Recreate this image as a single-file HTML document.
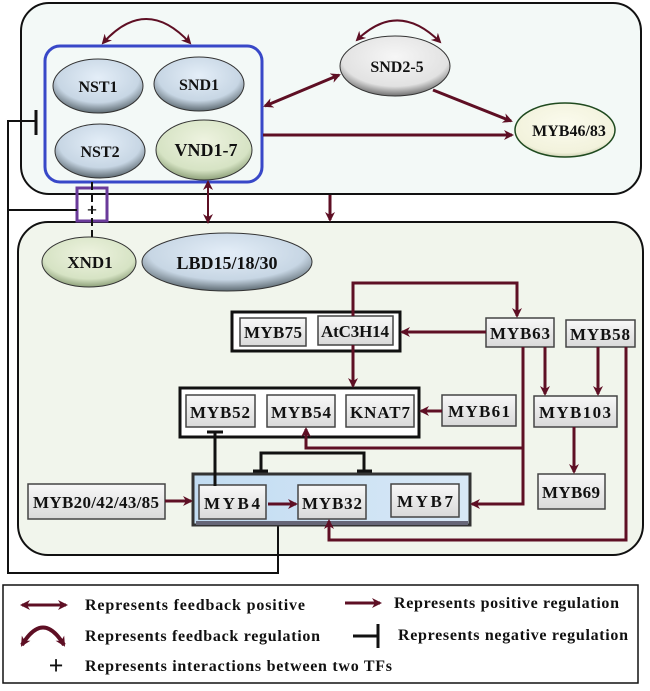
<!DOCTYPE html>
<html><head><meta charset="utf-8"><style>
html,body{margin:0;padding:0;background:#fff}
svg{display:block}
text{font-family:"Liberation Serif",serif;font-weight:bold;fill:#111}
</style></head><body>
<svg width="650" height="691" viewBox="0 0 650 691" xmlns="http://www.w3.org/2000/svg">
<defs>
<marker id="ah" markerWidth="10" markerHeight="10" refX="8" refY="5" orient="auto-start-reverse" markerUnits="userSpaceOnUse"><path d="M0,0 L10,5 L0,10 L3,5 Z" fill="#5e0f24"/></marker>
<radialGradient id="gb" cx="50%" cy="35%" r="65%"><stop offset="0" stop-color="#e4eef8"/><stop offset="0.7" stop-color="#c7d6e4"/><stop offset="1" stop-color="#5f6c74"/></radialGradient>
<radialGradient id="gg" cx="50%" cy="35%" r="65%"><stop offset="0" stop-color="#eef3e0"/><stop offset="0.75" stop-color="#d6e3c4"/><stop offset="1" stop-color="#8ea17a"/></radialGradient>
<radialGradient id="gw" cx="50%" cy="35%" r="65%"><stop offset="0" stop-color="#f6f6f6"/><stop offset="0.75" stop-color="#e2e2e2"/><stop offset="1" stop-color="#707070"/></radialGradient>
<radialGradient id="gy" cx="50%" cy="40%" r="65%"><stop offset="0" stop-color="#fbfbee"/><stop offset="0.8" stop-color="#f2f2dc"/><stop offset="1" stop-color="#b8bd9a"/></radialGradient>
<linearGradient id="bx" x1="0" y1="0" x2="0" y2="1"><stop offset="0" stop-color="#f8f8f8"/><stop offset="1" stop-color="#d9d9d9"/></linearGradient>
<linearGradient id="blu" x1="0" y1="0" x2="1" y2="0"><stop offset="0" stop-color="#c2dcf2"/><stop offset="1" stop-color="#d8e8f6"/></linearGradient>
</defs>
<g stroke="#111" stroke-width="2">
<rect x="21" y="3" width="620" height="191" rx="28" fill="#f3f9f7"/>
<rect x="18" y="222" width="625" height="333" rx="30" fill="#f1f5ec"/>
<rect x="3" y="585" width="635" height="98" fill="#fff" stroke-width="1.5"/>
</g>
<rect x="45" y="46" width="217" height="136" rx="15" fill="none" stroke="#3848c8" stroke-width="3"/>
<g stroke="#333" stroke-width="1">
<ellipse cx="98" cy="86" rx="45" ry="27" fill="url(#gb)"/>
<ellipse cx="199" cy="84" rx="45" ry="27" fill="url(#gb)"/>
<ellipse cx="100" cy="151" rx="45" ry="27" fill="url(#gb)"/>
<ellipse cx="204" cy="150" rx="48" ry="30" fill="url(#gg)"/>
<ellipse cx="395" cy="66" rx="55" ry="30" fill="url(#gw)"/>
<ellipse cx="565" cy="130" rx="50" ry="27" fill="url(#gy)" stroke="#1f4a1f" stroke-width="1.5"/>
<ellipse cx="89" cy="262" rx="47" ry="25" fill="url(#gg)"/>
<ellipse cx="227" cy="262" rx="85" ry="29" fill="url(#gb)"/>
</g>
<g font-size="16" text-anchor="middle">
<text x="98" y="92">NST1</text><text x="199" y="90">SND1</text>
<text x="100" y="157">NST2</text><text x="206" y="156" font-size="18">VND1-7</text>
<text x="397" y="72">SND2-5</text><text x="569" y="136">MYB46/83</text>
<text x="90" y="268" font-size="17">XND1</text><text x="227" y="269" font-size="18">LBD15/18/30</text>
</g>
<g stroke="#5e0f24" stroke-width="3" fill="none">
<path d="M103,43 Q146,-5 190,43" stroke-width="2" marker-start="url(#ah)" marker-end="url(#ah)"/>
<path d="M357,40 Q398,0 440,42" stroke-width="2" marker-start="url(#ah)" marker-end="url(#ah)"/>
<line x1="265" y1="106" x2="339" y2="75" marker-start="url(#ah)" marker-end="url(#ah)"/>
<line x1="433" y1="90" x2="511" y2="121" marker-end="url(#ah)"/>
<line x1="263" y1="135" x2="512" y2="135" marker-end="url(#ah)"/>
<line x1="330" y1="195" x2="330" y2="220" marker-end="url(#ah)"/>
<line x1="208" y1="182" x2="208" y2="222" stroke-width="2" marker-start="url(#ah)" marker-end="url(#ah)"/>
</g>
<rect x="77" y="188" width="30" height="33" fill="none" stroke="#6a3a9a" stroke-width="3"/>
<line x1="92" y1="182" x2="92" y2="237" stroke="#111" stroke-width="2" stroke-dasharray="8,4"/>
<text x="92" y="216" font-size="18" text-anchor="middle">+</text>
<g stroke="#111" stroke-width="2" fill="none">
<polyline points="36,121 8,121 8,573 278,573 278,526"/>
<line x1="36" y1="110" x2="36" y2="135" stroke-width="3"/>
<line x1="8" y1="210" x2="77" y2="210"/>
</g>
<g stroke="#111" fill="none" stroke-width="3">
<rect x="232" y="312" width="168" height="39" fill="#fff"/>
<rect x="180" y="388" width="239" height="49" fill="#fff"/>
</g>
<rect x="193" y="474" width="277" height="51" fill="url(#blu)" stroke="#333" stroke-width="3"/>
<line x1="196" y1="523" x2="468" y2="523" stroke="#667" stroke-width="4"/>
<g stroke="#444" stroke-width="1.5" fill="url(#bx)">
<rect x="240" y="318" width="66" height="28"/>
<rect x="318" y="316" width="75" height="29"/>
<rect x="486" y="318" width="68" height="29"/>
<rect x="566" y="320" width="69" height="27"/>
<rect x="186" y="395" width="69" height="32"/>
<rect x="267" y="395" width="68" height="32"/>
<rect x="346" y="395" width="68" height="32"/>
<rect x="442" y="395" width="74" height="31"/>
<rect x="534" y="396" width="83" height="31"/>
<rect x="538" y="474" width="67" height="35"/>
<rect x="28" y="484" width="137" height="35"/>
<rect x="199" y="485" width="67" height="34"/>
<rect x="298" y="485" width="68" height="34"/>
<rect x="391" y="484" width="68" height="33"/>
</g>
<g font-size="17" text-anchor="middle">
<text x="273" y="338" textLength="58">MYB75</text><text x="355" y="337" textLength="68">AtC3H14</text>
<text x="520" y="339" textLength="60">MYB63</text><text x="600" y="340" textLength="60">MYB58</text>
<text x="220" y="418" textLength="60">MYB52</text><text x="301" y="418" textLength="60">MYB54</text><text x="380" y="418" textLength="60">KNAT7</text>
<text x="479" y="417" textLength="62">MYB61</text><text x="575" y="418" textLength="72">MYB103</text><text x="571" y="498" textLength="58">MYB69</text>
<text x="96" y="508" textLength="126">MYB20/42/43/85</text><text x="232" y="509" textLength="56">MYB4</text>
<text x="332" y="509" textLength="60">MYB32</text><text x="425" y="507" textLength="56">MYB7</text>
</g>
<g stroke="#5e0f24" stroke-width="3" fill="none">
<polyline points="353,316 353,283 517,283 517,316" marker-end="url(#ah)"/>
<line x1="486" y1="332" x2="402" y2="332" marker-end="url(#ah)"/>
<line x1="353" y1="345" x2="353" y2="386" marker-end="url(#ah)"/>
<line x1="442" y1="411" x2="421" y2="411" marker-end="url(#ah)"/>
<line x1="545" y1="347" x2="545" y2="394" marker-end="url(#ah)"/>
<line x1="598" y1="347" x2="598" y2="394" marker-end="url(#ah)"/>
<line x1="574" y1="427" x2="574" y2="472" marker-end="url(#ah)"/>
<polyline points="523,347 523,504 472,504" marker-end="url(#ah)"/>
<polyline points="523,448 306,448 306,429" marker-end="url(#ah)"/>
<polyline points="626,347 626,540 329,540 329,521" marker-end="url(#ah)"/>
<line x1="165" y1="501" x2="191" y2="501" marker-end="url(#ah)"/>
<line x1="268" y1="504" x2="296" y2="504" marker-end="url(#ah)"/>
</g>
<g stroke="#111" stroke-width="3" fill="none">
<line x1="215" y1="486" x2="215" y2="432"/><line x1="207" y1="432" x2="223" y2="432"/>
<polyline points="261,471 261,453 364,453 364,471"/>
<line x1="253" y1="471" x2="268" y2="471"/><line x1="357" y1="471" x2="372" y2="471"/>
</g>
<g stroke="#5e0f24" stroke-width="3" fill="none">
<line x1="22" y1="605" x2="66" y2="605" marker-start="url(#ah)" marker-end="url(#ah)"/>
<line x1="345" y1="603" x2="380" y2="603" marker-end="url(#ah)"/>
<path d="M22,645 Q43,610 64,645" stroke-width="4" marker-start="url(#ah)" marker-end="url(#ah)"/>
</g>
<g stroke="#111" stroke-width="3"><line x1="353" y1="636" x2="378" y2="636"/><line x1="378" y1="624" x2="378" y2="648"/></g>
<text x="56" y="674" font-size="26" text-anchor="middle">+</text>
<g font-size="16">
<text x="85" y="610" textLength="220">Represents  feedback positive</text>
<text x="394" y="608" textLength="225">Represents positive regulation</text>
<text x="85" y="641" textLength="235">Represents feedback regulation</text>
<text x="398" y="640" textLength="230">Represents negative regulation</text>
<text x="85" y="671" textLength="307">Represents interactions between two TFs</text>
</g>
</svg>
</body></html>
